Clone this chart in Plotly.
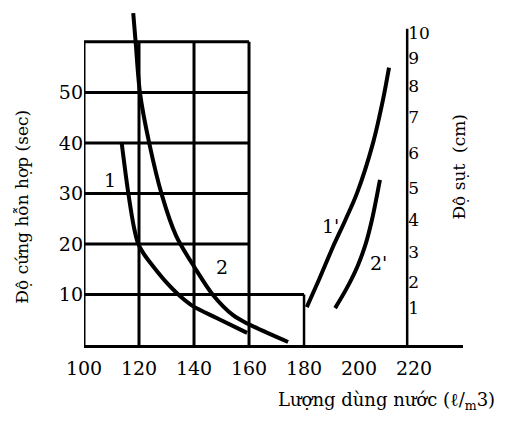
import plotly.graph_objects as go

# ---- data ----
curve1_x = [113.7, 116.1, 118.2, 119.6, 121.8, 125.1, 129.8, 134.9, 139.6, 148.4, 159.3]
curve1_y = [40.0, 30.1, 23.2, 20.2, 18.0, 15.6, 12.5, 9.7, 7.7, 5.3, 2.4]

curve2_x = [117.9, 118.8, 120.4, 123.7, 128.3, 133.5, 140.4, 146.9, 154.2, 159.6, 174.2]
curve2_y = [65.7, 59.8, 49.7, 40.0, 29.7, 21.6, 15.2, 9.9, 5.9, 4.2, 0.6]

curve1p_x = [181.0, 185.5, 190.5, 195.0, 199.3, 205.1, 208.7, 210.9]
curve1p_y = [7.5, 13.0, 19.4, 24.7, 30.1, 40.0, 48.5, 54.9]

curve2p_x = [191.3, 195.5, 199.3, 202.3, 204.7, 207.6]
curve2p_y = [7.3, 11.2, 15.4, 19.8, 24.8, 32.7]

x_ticks = [100, 120, 140, 160, 180, 200, 220]
y_ticks = [10, 20, 30, 40, 50]

slump_labels = ["1", "2", "3", "4", "5", "6", "7", "8", "9", "10"]
slump_pos = [7.3, 12.5, 18.4, 24.8, 31.1, 38.0, 45.1, 51.3, 56.8, 61.8]

grid_vx = [100, 120, 140, 160]
grid_hy = [10, 20, 30, 40, 50, 60]
box_x = [160, 180]
box_top = 10
slump_axis_x = 217.5
slump_axis_top = 62.6

curve_labels = ["1", "2", "1'", "2'"]
curve_label_x = [109.5, 150.2, 189.8, 206.9]
curve_label_y = [32.7, 15.5, 23.6, 16.2]

X_RANGE = [100, 237.8]
Y_RANGE = [0, 66.7]

FONT = "DejaVu Serif"

fig = go.Figure()
for xs, ys in [(curve1_x, curve1_y), (curve2_x, curve2_y),
               (curve1p_x, curve1p_y), (curve2p_x, curve2p_y)]:
    fig.add_trace(go.Scatter(x=xs, y=ys, mode="lines",
                             line=dict(color="black", width=4, shape="spline", smoothing=0.9),
                             showlegend=False, hoverinfo="skip"))

# invisible trace for second axis
fig.add_trace(go.Scatter(x=[slump_axis_x], y=[0], yaxis="y2", mode="markers",
                         marker=dict(opacity=0), showlegend=False, hoverinfo="skip"))

shapes = []
for gx in grid_vx:
    shapes.append(dict(type="line", xref="x", yref="y", x0=gx, x1=gx, y0=0, y1=grid_hy[-1],
                       line=dict(color="black", width=3)))
for gy in grid_hy:
    x_end = box_x[1] if gy == box_top else grid_vx[-1]
    shapes.append(dict(type="line", xref="x", yref="y", x0=grid_vx[0], x1=x_end, y0=gy, y1=gy,
                       line=dict(color="black", width=3)))
shapes.append(dict(type="line", xref="x", yref="y", x0=box_x[1], x1=box_x[1], y0=0, y1=box_top,
                   line=dict(color="black", width=2.5)))
shapes.append(dict(type="line", xref="x", yref="y", x0=slump_axis_x, x1=slump_axis_x,
                   y0=0, y1=slump_axis_top, line=dict(color="black", width=2.5)))

annotations = []
for t, ax, ay in zip(curve_labels, curve_label_x, curve_label_y):
    annotations.append(dict(x=ax, y=ay, xref="x", yref="y", text=t, showarrow=False,
                            font=dict(family=FONT, size=19, color="black")))
annotations.append(dict(x=-0.164, y=0.41, xref="paper", yref="paper", xanchor="center", yanchor="middle",
                        text="Độ cứng hỗn hợp (sec)", textangle=-90, showarrow=False,
                        font=dict(family=FONT, size=17, color="black")))
annotations.append(dict(x=0.99, y=0.53, xref="paper", yref="paper", xanchor="center", yanchor="middle",
                        text="Độ sụt  (cm)", textangle=-90, showarrow=False,
                        font=dict(family=FONT, size=17, color="black")))
annotations.append(dict(x=0.797, y=-0.165, xref="paper", yref="paper", xanchor="center", yanchor="middle",
                        text="Lượng dùng nước (ℓ/<sub>m</sub>3)", showarrow=False,
                        font=dict(family=FONT, size=18, color="black")))

fig.update_layout(
    width=509, height=419,
    margin=dict(l=76, r=54, t=0, b=82, autoexpand=False),
    paper_bgcolor="white", plot_bgcolor="white",
    shapes=shapes, annotations=annotations,
    xaxis=dict(range=X_RANGE, showgrid=False, zeroline=False, showline=True, automargin=False,
               linecolor="black", linewidth=3, tickvals=x_ticks, ticks="",
               ticklabelstandoff=4,
               tickfont=dict(family=FONT, size=19, color="black")),
    yaxis=dict(range=Y_RANGE, showgrid=False, zeroline=False, showline=False, automargin=False,
               tickvals=y_ticks, ticks="",
               tickfont=dict(family=FONT, size=19, color="black")),
    yaxis2=dict(range=Y_RANGE, overlaying="y", side="right", anchor="free", automargin=False,
                position=(slump_axis_x - X_RANGE[0]) / (X_RANGE[1] - X_RANGE[0]), showgrid=False,
                zeroline=False, showline=False, ticks="",
                tickvals=slump_pos, ticktext=slump_labels,
                tickfont=dict(family=FONT, size=17, color="black")),
)

fig.write_html("out.html")
